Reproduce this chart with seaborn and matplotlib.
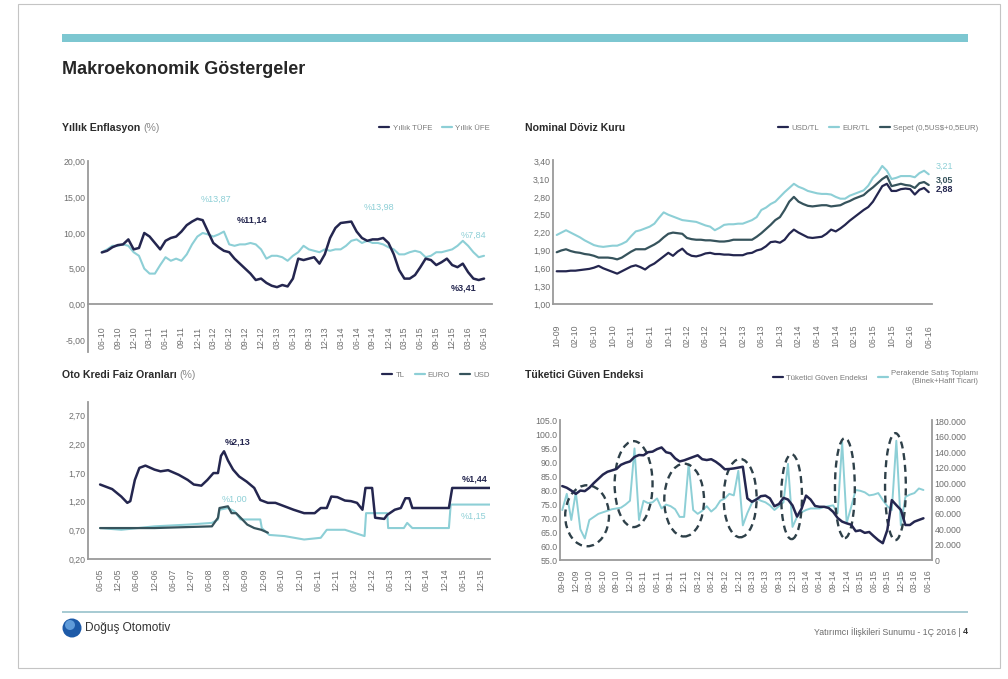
import numpy as np
import pandas as pd
import matplotlib
matplotlib.use("Agg")
import matplotlib.pyplot as plt
import seaborn as sns
from matplotlib.patches import Ellipse, Rectangle
from matplotlib.lines import Line2D

# ---------------- data ----------------
# Yillik enflasyon, aylik 06-10 .. 06-16
tufe = [7.27, 7.5, 8.0, 8.3, 8.4, 9.1, 7.7, 7.9, 10.0, 9.5,
        8.6, 7.7, 8.9, 9.3, 9.5, 10.2, 11.1, 11.6, 12.0, 11.8,
        10.2, 8.6, 8.0, 7.5, 7.3, 6.4, 5.7, 5.0, 4.3, 3.4,
        3.6, 3.0, 2.6, 2.4, 2.7, 2.5, 3.6, 6.4, 6.2, 6.4,
        6.6, 5.7, 7.0, 9.3, 10.7, 11.4, 11.5, 11.6, 10.2, 9.3,
        8.9, 9.1, 9.1, 9.3, 8.6, 7.0, 4.8, 3.6, 3.6, 4.1,
        5.2, 6.4, 6.2, 5.5, 5.9, 6.4, 5.5, 5.2, 5.7, 4.5,
        3.6, 3.4, 3.6]
ufe = [7.3, 7.7, 8.2, 8.2, 8.4, 8.2, 7.3, 6.8, 5.0, 4.3,
       4.3, 5.5, 6.6, 6.1, 6.4, 6.1, 7.0, 8.4, 9.5, 10.0,
       9.8, 9.5, 9.8, 10.2, 8.4, 8.2, 8.4, 8.4, 8.6, 8.4,
       7.7, 6.4, 6.8, 6.8, 6.6, 6.1, 6.8, 7.3, 8.2, 7.7,
       7.5, 7.3, 7.7, 7.5, 7.7, 7.7, 8.2, 8.9, 9.1, 8.6,
       8.9, 8.6, 8.6, 8.4, 8.0, 7.7, 7.0, 7.0, 7.3, 7.5,
       7.3, 6.6, 6.8, 7.3, 7.3, 7.5, 7.7, 8.2, 8.9, 8.2,
       7.3, 6.6, 6.8]
infl_xlabels = ["06-10", "09-10", "12-10", "03-11", "06-11", "09-11", "12-11",
                "03-12", "06-12", "09-12", "12-12", "03-13", "06-13", "09-13",
                "12-13", "03-14", "06-14", "09-14", "12-14", "03-15", "06-15",
                "09-15", "12-15", "03-16", "06-16"]
infl_yticks = [-5, 0, 5, 10, 15, 20]
infl_notes = ["%13,87", "%11,14", "%13,98", "%7,84", "%3,41"]
infl_note_m = [21.5, 28.2, 52.2, 70.0, 68.2]
infl_note_v = [14.7, 11.8, 13.6, 9.7, 2.3]

# Nominal doviz kuru, aylik 10-09 .. 06-16
usd = [1.55, 1.55, 1.55, 1.56, 1.56, 1.57, 1.58, 1.59, 1.61, 1.64,
       1.60, 1.57, 1.54, 1.51, 1.55, 1.59, 1.63, 1.65, 1.62, 1.58,
       1.64, 1.68, 1.74, 1.80, 1.86, 1.81, 1.88, 1.93, 1.85, 1.81,
       1.80, 1.82, 1.85, 1.86, 1.84, 1.84, 1.83, 1.83, 1.82, 1.82,
       1.82, 1.85, 1.86, 1.90, 1.92, 1.97, 2.04, 2.05, 2.03, 2.08,
       2.18, 2.25, 2.20, 2.16, 2.12, 2.11, 2.12, 2.13, 2.18, 2.25,
       2.22, 2.27, 2.33, 2.40, 2.46, 2.52, 2.58, 2.63, 2.72, 2.85,
       2.98, 3.02, 2.90, 2.90, 2.93, 2.94, 2.93, 2.84, 2.92, 2.95,
       2.88]
sepet = [1.87, 1.90, 1.92, 1.89, 1.87, 1.86, 1.84, 1.83, 1.81, 1.78,
         1.78, 1.78, 1.77, 1.75, 1.78, 1.83, 1.88, 1.92, 1.92, 1.92,
         1.96, 2.00, 2.05, 2.12, 2.18, 2.20, 2.19, 2.18, 2.11, 2.09,
         2.08, 2.08, 2.07, 2.07, 2.06, 2.05, 2.05, 2.06, 2.08, 2.08,
         2.08, 2.08, 2.08, 2.13, 2.19, 2.26, 2.33, 2.41, 2.46, 2.58,
         2.72, 2.80, 2.72, 2.68, 2.65, 2.64, 2.65, 2.66, 2.66, 2.64,
         2.65, 2.66, 2.70, 2.73, 2.77, 2.80, 2.83, 2.90, 2.96, 3.03,
         3.10, 3.15, 2.98, 3.00, 3.02, 3.00, 2.99, 2.95, 3.03, 3.05,
         3.00]
eur = [2.16, 2.20, 2.24, 2.20, 2.16, 2.12, 2.07, 2.03, 1.99, 1.97,
       1.96, 1.97, 1.98, 1.98, 2.01, 2.05, 2.14, 2.22, 2.24, 2.27,
       2.30, 2.35, 2.45, 2.54, 2.50, 2.47, 2.44, 2.41, 2.40, 2.39,
       2.38, 2.35, 2.32, 2.30, 2.24, 2.28, 2.33, 2.34, 2.34, 2.35,
       2.35, 2.38, 2.41, 2.46, 2.58, 2.62, 2.68, 2.72, 2.80, 2.88,
       2.95, 3.02, 2.97, 2.94, 2.90, 2.88, 2.86, 2.85, 2.85, 2.84,
       2.80, 2.77, 2.77, 2.82, 2.85, 2.88, 2.91, 2.99, 3.12, 3.20,
       3.32, 3.24, 3.10, 3.12, 3.15, 3.15, 3.15, 3.13, 3.20, 3.24,
       3.18]
fx_xlabels = ["10-09", "02-10", "06-10", "10-10", "02-11", "06-11", "10-11",
              "02-12", "06-12", "10-12", "02-13", "06-13", "10-13", "02-14",
              "06-14", "10-14", "02-15", "06-15", "10-15", "02-16", "06-16"]
fx_yticks = [1.00, 1.30, 1.60, 1.90, 2.20, 2.50, 2.80, 3.10, 3.40]
fx_notes = ["3,21", "3,05", "2,88"]
fx_note_v = [3.32, 3.08, 2.93]

# Oto kredi faiz oranlari (ay: 06-05'ten itibaren)
tl_m = [0, 4, 7, 9, 10, 11.5, 13, 15, 18, 20, 22.5, 26, 29, 31, 33.5, 35.5,
        37.5, 39, 40, 41, 42.3, 44, 46, 48.5, 51, 53, 55.5, 58, 61, 64, 67.5,
        71, 73, 75, 76.5, 78.5, 81, 83, 85, 86.8, 87.8, 90, 91, 94, 95, 97.5,
        99.5, 101, 102.3, 103.3, 115.4, 116.5, 129]
tl_v = [1.50, 1.42, 1.29, 1.18, 1.21, 1.58, 1.79, 1.83, 1.76, 1.73, 1.75, 1.67,
        1.58, 1.50, 1.48, 1.58, 1.70, 1.70, 2.00, 2.08, 1.92, 1.76, 1.64, 1.55,
        1.44, 1.23, 1.18, 1.18, 1.12, 1.06, 1.00, 1.00, 1.09, 1.09, 1.29, 1.28,
        1.22, 1.21, 1.18, 1.06, 1.44, 1.44, 0.92, 0.90, 0.97, 1.06, 1.09, 1.26,
        1.26, 1.09, 1.09, 1.44, 1.44]
euro_m = [0, 7, 18, 29, 37, 39, 39.5, 42.3, 44.5, 46.5, 53, 53.5, 56, 61,
          67.5, 73, 75, 81, 87.5, 88, 95, 95.3, 100.5, 101.6, 103.3, 115.4,
          116, 129]
euro_v = [0.74, 0.71, 0.77, 0.80, 0.83, 0.89, 1.06, 1.09, 1.03, 0.89, 0.89,
          0.74, 0.62, 0.60, 0.54, 0.57, 0.71, 0.71, 0.60, 1.00, 1.00, 0.74,
          0.74, 0.83, 0.74, 0.74, 1.15, 1.15]
usdk_m = [0, 18, 37, 39, 39.5, 42.3, 43.5, 45, 46.5, 48.7, 51, 53.3, 55.5]
usdk_v = [0.74, 0.74, 0.77, 0.92, 1.09, 1.12, 1.00, 1.00, 0.92, 0.80, 0.74,
          0.71, 0.66]
kredi_xlabels = ["06-05", "12-05", "06-06", "12-06", "06-07", "12-07", "06-08",
                 "12-08", "06-09", "12-09", "06-10", "12-10", "06-11", "12-11",
                 "06-12", "12-12", "06-13", "12-13", "06-14", "12-14", "06-15",
                 "12-15"]
kredi_yticks = [0.20, 0.70, 1.20, 1.70, 2.20, 2.70]
kredi_notes = ["%2,13", "%1,00", "%1,44", "%1,15"]
kredi_note_m = [45.5, 44.5, 124.0, 123.6]
kredi_note_v = [2.24, 1.25, 1.60, 0.95]

# Tuketici guven endeksi ve perakende satis (bin adet), aylik 09-09 .. 05-16
guven = [81.4, 80.8, 79.8, 78.6, 79.8, 79.6, 80.8, 82.5, 84.0, 85.5,
         86.5, 87.0, 87.5, 89.0, 89.7, 90.2, 91.8, 92.5, 92.4, 93.5,
         93.7, 94.6, 95.2, 93.5, 93.1, 91.3, 90.2, 90.6, 91.2, 91.8,
         92.4, 91.0, 90.7, 91.0, 90.1, 88.9, 87.4, 87.5, 87.7, 88.0,
         88.3, 77.0, 75.8, 76.6, 77.8, 78.0, 77.0, 74.2, 75.0, 77.2,
         76.6, 74.5, 70.5, 73.3, 78.0, 76.6, 74.3, 74.0, 74.0, 73.6,
         72.2, 70.0, 68.7, 68.1, 67.6, 65.3, 65.6, 64.7, 65.0, 63.5,
         62.1, 61.0, 65.7, 76.4, 74.6, 72.9, 67.5, 67.5, 68.7, 69.3,
         69.9]
perakende = [65, 86, 52, 88, 40, 28, 52, 56, 60, 62,
             64, 66, 67, 68, 72, 77, 145, 52, 77, 74,
             75, 80, 67, 72, 70, 66, 56, 56, 125, 65,
             60, 64, 70, 63, 68, 77, 80, 86, 84, 116,
             45, 61, 74, 80, 77, 75, 71, 65, 70, 75,
             125, 43, 56, 62, 65, 67, 67, 67, 69, 70,
             71, 61, 153, 48, 69, 91, 90, 88, 84, 85,
             87, 78, 70, 65, 155, 45, 82, 85, 87, 93,
             91]
guven_xlabels = ["09-09", "12-09", "03-10", "06-10", "09-10", "12-10", "03-11",
                 "06-11", "09-11", "12-11", "03-12", "06-12", "09-12", "12-12",
                 "03-13", "06-13", "09-13", "12-13", "03-14", "06-14", "09-14",
                 "12-14", "03-15", "06-15", "09-15", "12-15", "03-16", "06-16"]
guven_yticks = [55, 60, 65, 70, 75, 80, 85, 90, 95, 100, 105]
perakende_yticks = [0, 20, 40, 60, 80, 100, 120, 140, 160, 180]
# vurgulanan yil sonu donemleri (ay, endeks)
ell_k = [5.5, 15.8, 27.0, 39.4, 50.8, 62.6, 73.8]
ell_y = [70.8, 82.1, 76.4, 77.1, 77.6, 80.7, 81.2]
ell_w = [9.7, 8.4, 8.8, 7.3, 4.6, 4.4, 4.6]
ell_h = [21.8, 30.7, 26.0, 28.0, 30.3, 35.7, 38.2]

# ---------------- style ----------------
sns.set_style("white")
plt.rcParams["font.family"] = ["Liberation Sans", "DejaVu Sans"]

NAVY = "#24264f"
TEAL = "#8dcfd6"
SLATE = "#36535c"
AXIS = "#9a9a9a"
TICK = "#6e6e6e"
GREY = "#7a7a7a"

W, H = 1008, 679
fig = plt.figure(figsize=(W / 100, H / 100), dpi=100)


def px_axes(l, t, r, b):
    return fig.add_axes([l / W, 1 - b / H, (r - l) / W, (b - t) / H])


def style(ax, pad, fs=6.3):
    for s in ["top", "right"]:
        ax.spines[s].set_visible(False)
    for s in ["left", "bottom"]:
        ax.spines[s].set_color(AXIS)
        ax.spines[s].set_linewidth(1.3)
    ax.tick_params(axis="y", length=0, labelsize=fs, labelcolor=TICK, pad=2)
    ax.tick_params(axis="x", direction="in", length=4, width=1, color=AXIS,
                   labelsize=fs, labelcolor=TICK, labelrotation=90, pad=pad)
    ax.set_xlabel("")
    ax.set_ylabel("")
    ax.grid(False)


def comma(v, nd=2):
    return f"{v:.{nd}f}".replace(".", ",")


renderer = fig.canvas.get_renderer()


def panel_title(x, y, bold, extra=None):
    t = fig.text(x / W, 1 - y / H, bold, fontsize=7.6, weight="bold",
                 color="#2b2b2b", va="center")
    if extra:
        bb = t.get_window_extent(renderer)
        fig.text(bb.x1 / W + 3 / W, 1 - y / H, extra, fontsize=7.6,
                 color="#8a8a8a", va="center")


def legend(handles, labels, x, y, loc="center right", ncol=None):
    leg = fig.legend(handles, labels, loc=loc, bbox_to_anchor=(x / W, 1 - y / H),
                     ncol=ncol or len(labels), frameon=False, fontsize=5.6,
                     handlelength=1.3, handletextpad=0.4, columnspacing=1.3,
                     borderaxespad=0, borderpad=0, labelcolor=GREY)
    return leg


def h(color, lw=1.6):
    return Line2D([], [], color=color, lw=lw)


# ---------------- slide decorations ----------------
fig.patches.append(Rectangle((18 / W, 1 - 668 / H), 982 / W, 664 / H, transform=fig.transFigure,
                             fill=False, edgecolor="#c4c4c4", lw=0.8))
fig.patches.append(Rectangle((62 / W, 1 - 42 / H), 906 / W, 8 / H, transform=fig.transFigure,
                             facecolor="#7dc7d1", lw=0))
fig.text(62 / W, 1 - 70 / H, "Makroekonomik Göstergeler", fontsize=13, weight="bold",
         color="#262626", va="center")
fig.patches.append(Rectangle((62 / W, 1 - 613 / H), 906 / W, 2 / H, transform=fig.transFigure,
                             facecolor="#a8cbd3", lw=0))
fig.patches.append(Ellipse((72 / W, 1 - 628 / H), 19 / W, 19 / H, transform=fig.transFigure,
                           facecolor="#1d5aa8", lw=0))
fig.patches.append(Ellipse((70 / W, 1 - 625 / H), 10 / W, 10 / H, transform=fig.transFigure,
                           facecolor="#5f9bd9", lw=0))
fig.text(85 / W, 1 - 628 / H, "Doğuş Otomotiv", fontsize=8.6, color="#333333", va="center")
fig.text(963 / W, 1 - 632 / H, "Yatırımcı İlişkileri Sunumu - 1Ç 2016 | ", fontsize=6.3,
         color="#6a6a6a", va="center", ha="right")
fig.text(963 / W, 1 - 632 / H, "4", fontsize=6.5, color="#333333", va="center",
         ha="left", weight="bold")

# ---------------- 1: Yillik Enflasyon ----------------
ax1 = px_axes(88, 161, 492, 352)
m1 = np.arange(len(tufe))
sns.lineplot(x=m1, y=ufe, ax=ax1, color=TEAL, lw=1.5)
sns.lineplot(x=m1, y=tufe, ax=ax1, color=NAVY, lw=1.8)
ax1.set_xlim(-2.6, 73.5)
ax1.set_ylim(-6.7, 20.1)
ax1.set_yticks(infl_yticks)
ax1.set_yticklabels([comma(v) for v in infl_yticks])
ax1.set_xticks(np.arange(len(infl_xlabels)) * 3)
ax1.set_xticklabels(infl_xlabels)
style(ax1, pad=16)
ax1.spines["bottom"].set_position(("data", 0))
for txt, mm, vv in zip(infl_notes, infl_note_m, infl_note_v):
    dark = txt in ("%11,14", "%3,41")
    ax1.text(mm, vv, txt, fontsize=6.5, ha="center", va="center",
             color=NAVY if dark else TEAL, weight="bold" if dark else "normal")
panel_title(62, 128, "Yıllık Enflasyon", "(%)")
legend([h(NAVY), h(TEAL)], ["Yıllık TÜFE", "Yıllık ÜFE"], 490, 128)

# ---------------- 2: Nominal Doviz Kuru ----------------
ax2 = px_axes(553, 160, 932, 304)
m2 = np.arange(len(usd))
sns.lineplot(x=m2, y=eur, ax=ax2, color=TEAL, lw=1.5)
sns.lineplot(x=m2, y=sepet, ax=ax2, color=SLATE, lw=1.6)
sns.lineplot(x=m2, y=usd, ax=ax2, color=NAVY, lw=1.6)
ax2.set_xlim(-0.8, 80.7)
ax2.set_ylim(1.0, 3.42)
ax2.set_yticks(fx_yticks)
ax2.set_yticklabels([comma(v) for v in fx_yticks])
ax2.set_xticks(np.arange(len(fx_xlabels)) * 4)
ax2.set_xticklabels(fx_xlabels)
style(ax2, pad=15)
for txt, vv, col in zip(fx_notes, fx_note_v, [TEAL, SLATE, NAVY]):
    ax2.text(81.5, vv, txt, fontsize=6.5, ha="left", va="center", color=col,
             weight="normal" if col == TEAL else "bold", clip_on=False)
panel_title(525, 128, "Nominal Döviz Kuru")
legend([h(NAVY), h(TEAL), h(SLATE)], ["USD/TL", "EUR/TL", "Sepet (0,5US$+0,5EUR)"], 978, 128)

# ---------------- 3: Oto Kredi Faiz Oranlari ----------------
ax3 = px_axes(88, 402, 490, 559)
sns.lineplot(x=euro_m, y=euro_v, ax=ax3, color=TEAL, lw=1.5, sort=False, estimator=None)
sns.lineplot(x=usdk_m, y=usdk_v, ax=ax3, color=SLATE, lw=1.6, sort=False, estimator=None)
sns.lineplot(x=tl_m, y=tl_v, ax=ax3, color=NAVY, lw=1.8, sort=False, estimator=None)
ax3.set_xlim(-4, 129)
ax3.set_ylim(0.2, 2.94)
ax3.set_yticks(kredi_yticks)
ax3.set_yticklabels([comma(v) for v in kredi_yticks])
ax3.set_xticks(np.arange(len(kredi_xlabels)) * 6)
ax3.set_xticklabels(kredi_xlabels)
style(ax3, pad=7)
for txt, mm, vv in zip(kredi_notes, kredi_note_m, kredi_note_v):
    teal = txt in ("%1,00", "%1,15")
    ax3.text(mm, vv, txt, fontsize=6.5, ha="center", va="center",
             color=TEAL if teal else NAVY, weight="normal" if teal else "bold")
panel_title(62, 375, "Oto Kredi Faiz Oranları", "(%)")
legend([h(NAVY), h(TEAL), h(SLATE)], ["TL", "EURO", "USD"], 490, 375)

# ---------------- 4: Tuketici Guven Endeksi ----------------
ax4 = px_axes(560, 420, 932, 560)
ax4b = ax4.twinx()
m4 = np.arange(len(guven))
sns.lineplot(x=m4, y=perakende, ax=ax4b, color=TEAL, lw=1.4)
sns.lineplot(x=m4, y=guven, ax=ax4, color=NAVY, lw=1.8)
ax4.set_zorder(ax4b.get_zorder() + 1)
ax4.patch.set_visible(False)
ax4.set_xlim(-0.5, 81.9)
ax4.set_ylim(55, 105)
ax4b.set_ylim(0, 182)
ax4.set_yticks(guven_yticks)
ax4.set_yticklabels([f"{v:.1f}" for v in guven_yticks])
ax4b.set_yticks(perakende_yticks)
ax4b.set_yticklabels(["0" if v == 0 else f"{v}.000" for v in perakende_yticks])
ax4.set_xticks(np.arange(len(guven_xlabels)) * 3)
ax4.set_xticklabels(guven_xlabels)
style(ax4, pad=7)
ax4b.set_ylabel("")
for s in ["top", "left", "bottom"]:
    ax4b.spines[s].set_visible(False)
ax4b.spines["right"].set_color(AXIS)
ax4b.spines["right"].set_linewidth(1.3)
ax4b.tick_params(axis="y", length=0, labelsize=6.3, labelcolor=TICK, pad=2)
ax4b.grid(False)
for k, y, w, hh in zip(ell_k, ell_y, ell_w, ell_h):
    ax4.add_patch(Ellipse((k, y), w, hh, fill=False, edgecolor="#2e4049",
                          lw=1.7, linestyle=(0, (3, 2))))
panel_title(525, 375, "Tüketici Güven Endeksi")
leg4 = legend([h(NAVY), h(TEAL)],
              ["Tüketici Güven Endeksi", "Perakende Satış Toplamı\n(Binek+Hafif Ticari)"],
              978, 370, loc="upper right")
leg4.get_texts()[1].set_multialignment("right")

fig.savefig("out.png", dpi=100)
